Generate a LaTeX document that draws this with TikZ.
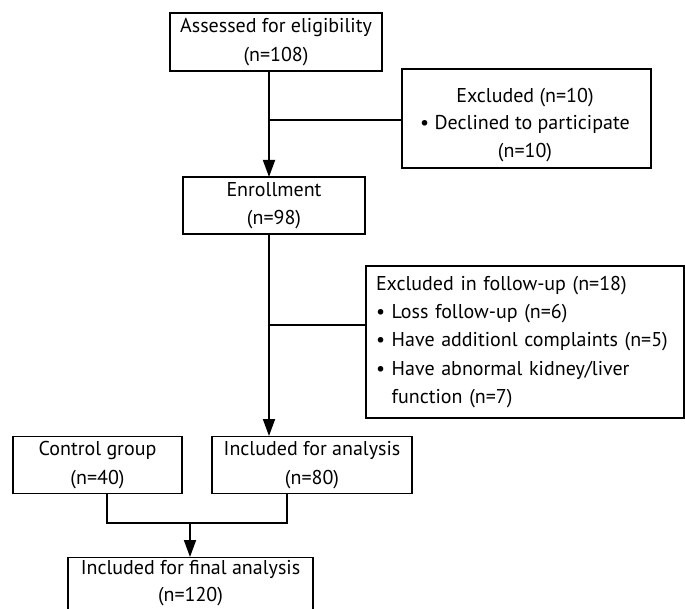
\documentclass[tikz,border=0pt]{standalone}
\usepackage{fontspec}
\setmainfont{PT Sans}
\usetikzlibrary{arrows.meta}
\begin{document}
\begin{tikzpicture}[x=1pt,y=-1pt,
  txt/.style={inner sep=0pt, align=center, font=\fontsize{20}{28.3}\selectfont},
  box/.style={txt, draw, line width=1.4pt},
  conn/.style={line width=1.8pt},
  branch/.style={line width=1.3pt},
  arr/.style={conn, -{Triangle[length=17pt,width=12pt]}}]
\useasboundingbox (0,0) rectangle (685,609);
\clip (0,0) rectangle (685,609);
\node[box, minimum width=212pt, minimum height=58pt] (assess) at (276,42) {Assessed for eligibility\\(n=108)};
\node[box, minimum width=182pt, minimum height=57pt] (enroll) at (274,205.5) {Enrollment\\(n=98)};
\node[box, minimum width=249pt, minimum height=99pt] (excl1) at (526.5,118.5) {};
\node[txt, font=\fontsize{20}{27.5}\selectfont] (excl1t) at (525,125) {Excluded (n=10)\\\textbullet\ Declined to participate\\(n=10)};
\node[box, minimum width=318pt, minimum height=152pt, align=left, text width=298pt] (excl2) at (525,342) {Excluded in follow-up (n=18)\\\textbullet\ Loss follow-up (n=6)\\\textbullet\ Have additionl complaints (n=5)\\\textbullet\ Have abnormal kidney/liver\\\phantom{\textbullet\ }function (n=7)};
\node[box, minimum width=169pt, minimum height=57pt] (control) at (97.5,465) {Control group\\(n=40)};
\node[box, minimum width=200pt, minimum height=57pt] (incl) at (312,465) {Included for analysis\\(n=80)};
\node[box, minimum width=245pt, minimum height=70pt, anchor=north] (final) at (190.5,557) {};
\node[txt, font=\fontsize{20}{27}\selectfont] (finalt) at (190.5,583) {Included for final analysis\\(n=120)};
% connectors
\coordinate (a1) at (269,71);
\coordinate (a2) at (269,177);
\coordinate (j1) at (269,120);
\draw[arr] (a1) -- (a2);
\draw[branch] (j1) -- (j1 -| excl1.west);
\coordinate (b1) at (269,234);
\coordinate (b2) at (269,436);
\coordinate (j2) at (269,325);
\draw[arr] (b1) -- (b2);
\draw[branch] (j2) -- (j2 -| excl2.west);
\coordinate (c1) at (107,493);
\coordinate (c2) at (287,493);
\coordinate (m) at (190,523);
\draw[branch] (c1) |- (m) -| (c2);
\draw[arr] (m) -- (m |- final.north);
\end{tikzpicture}
\end{document}
